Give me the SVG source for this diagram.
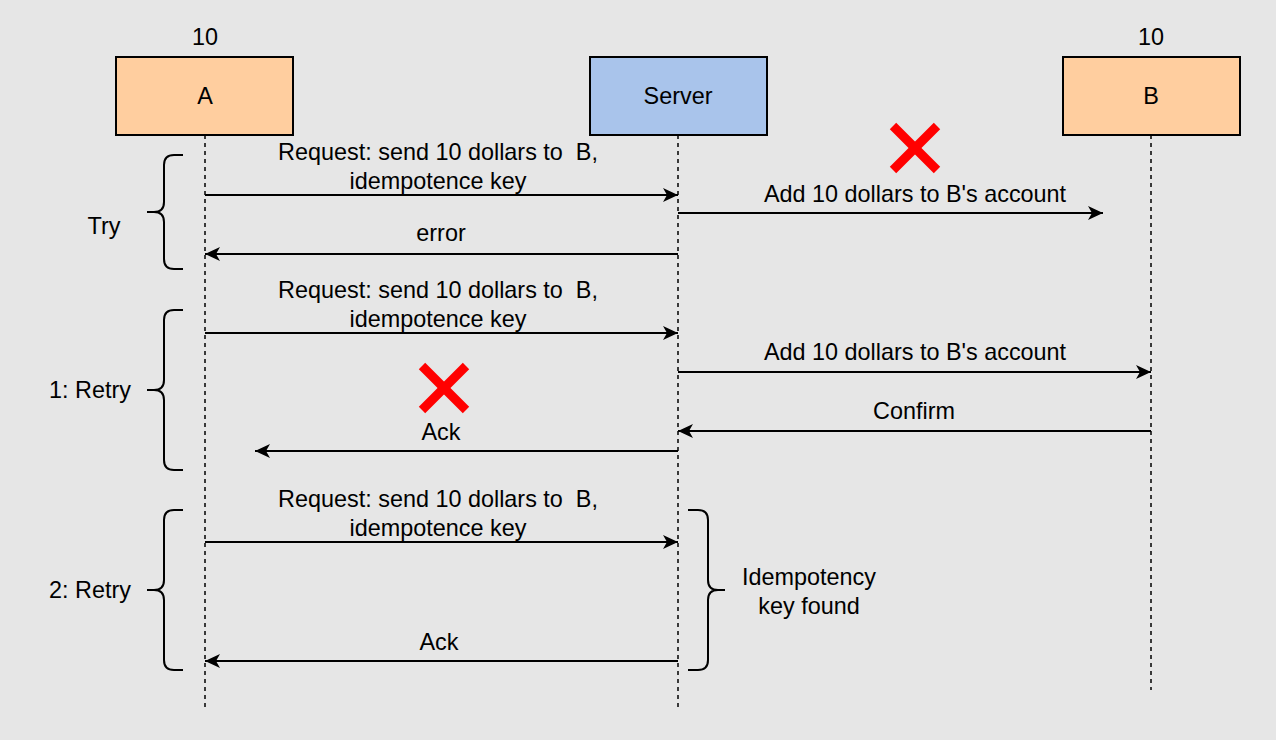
<svg xmlns="http://www.w3.org/2000/svg" width="1276" height="740" viewBox="0 0 1276 740">
<style>
text{font-family:"Liberation Sans",Arial,sans-serif;font-size:23.4px;fill:#000;text-anchor:middle;white-space:pre}
.box{stroke:#000;stroke-width:2}
.life{stroke:#000;stroke-width:1.5;stroke-dasharray:4 4;fill:none}
.msg{stroke:#000;stroke-width:2;fill:none;marker-end:url(#ah)}
.brace{stroke:#000;stroke-width:2;fill:none}
.x{stroke:#ff0000;stroke-width:9;stroke-linecap:butt}
</style>
<defs>
<marker id="ah" markerUnits="userSpaceOnUse" markerWidth="16" markerHeight="14" refX="15" refY="7" orient="auto">
<path d="M0,0 L15,7 L0,14 L4,7 z" fill="#000"/>
</marker>
</defs>
<rect width="1276" height="740" fill="#e6e6e6"/>
<g id="A">
<text x="205" y="45">10</text>
<rect class="box" x="116" y="57" width="177" height="78" fill="#ffce9f"/>
<text x="205" y="104">A</text>
<line class="life" x1="205" y1="135" x2="205" y2="710"/>
</g>
<g id="Server">
<rect class="box" x="590" y="57" width="177" height="78" fill="#a9c4eb"/>
<text x="678" y="104">Server</text>
<line class="life" x1="678" y1="135" x2="678" y2="710"/>
</g>
<g id="B">
<text x="1151" y="45">10</text>
<rect class="box" x="1063" y="57" width="177" height="78" fill="#ffce9f"/>
<text x="1151" y="104">B</text>
<line class="life" x1="1151" y1="135" x2="1151" y2="690"/>
</g>
<g id="connectors">
<line class="msg" x1="205" y1="195" x2="678" y2="195"/>
<line class="msg" x1="678" y1="213" x2="1103" y2="213"/>
<line class="msg" x1="678" y1="254" x2="205" y2="254"/>
<line class="msg" x1="205" y1="333" x2="678" y2="333"/>
<line class="msg" x1="678" y1="372" x2="1151" y2="372"/>
<line class="msg" x1="1151" y1="431" x2="678" y2="431"/>
<line class="msg" x1="678" y1="451" x2="255" y2="451"/>
<line class="msg" x1="205" y1="542" x2="678" y2="542"/>
<line class="msg" x1="678" y1="661" x2="205" y2="661"/>
</g>
<g id="labels">
<text x="438" y="160">Request: send 10 dollars to  B,</text>
<text x="438" y="189">idempotence key</text>
<text x="915" y="202">Add 10 dollars to B's account</text>
<text x="441" y="241">error</text>
<text x="438" y="298">Request: send 10 dollars to  B,</text>
<text x="438" y="327">idempotence key</text>
<text x="915" y="360">Add 10 dollars to B's account</text>
<text x="914" y="419">Confirm</text>
<text x="441" y="440">Ack</text>
<text x="438" y="507">Request: send 10 dollars to  B,</text>
<text x="438" y="536">idempotence key</text>
<text x="439" y="650">Ack</text>
<text x="809" y="585">Idempotency</text>
<text x="809" y="614">key found</text>
<text x="104" y="234">Try</text>
<text x="90" y="398">1: Retry</text>
<text x="90" y="598">2: Retry</text>
</g>
<g id="braces">
<path class="brace" d="M183,155 L174,155 Q164,155 164,165 L164,202 Q164,212 154,212 L147,212 M154,212 Q164,212 164,222 L164,259 Q164,269 174,269 L183,269"/>
<path class="brace" d="M183,310 L174,310 Q164,310 164,320 L164,380 Q164,390 154,390 L147,390 M154,390 Q164,390 164,400 L164,460 Q164,470 174,470 L183,470"/>
<path class="brace" d="M183,510 L174,510 Q164,510 164,520 L164,580 Q164,590 154,590 L147,590 M154,590 Q164,590 164,600 L164,660 Q164,670 174,670 L183,670"/>
<path class="brace" d="M688,510 L698,510 Q708,510 708,520 L708,580 Q708,590 718,590 L725,590 M718,590 Q708,590 708,600 L708,660 Q708,670 698,670 L688,670"/>
</g>
<g id="crosses">
<line class="x" x1="893" y1="126" x2="937" y2="170"/>
<line class="x" x1="937" y1="126" x2="893" y2="170"/>
<line class="x" x1="422" y1="366" x2="466" y2="410"/>
<line class="x" x1="466" y1="366" x2="422" y2="410"/>
</g>
</svg>
